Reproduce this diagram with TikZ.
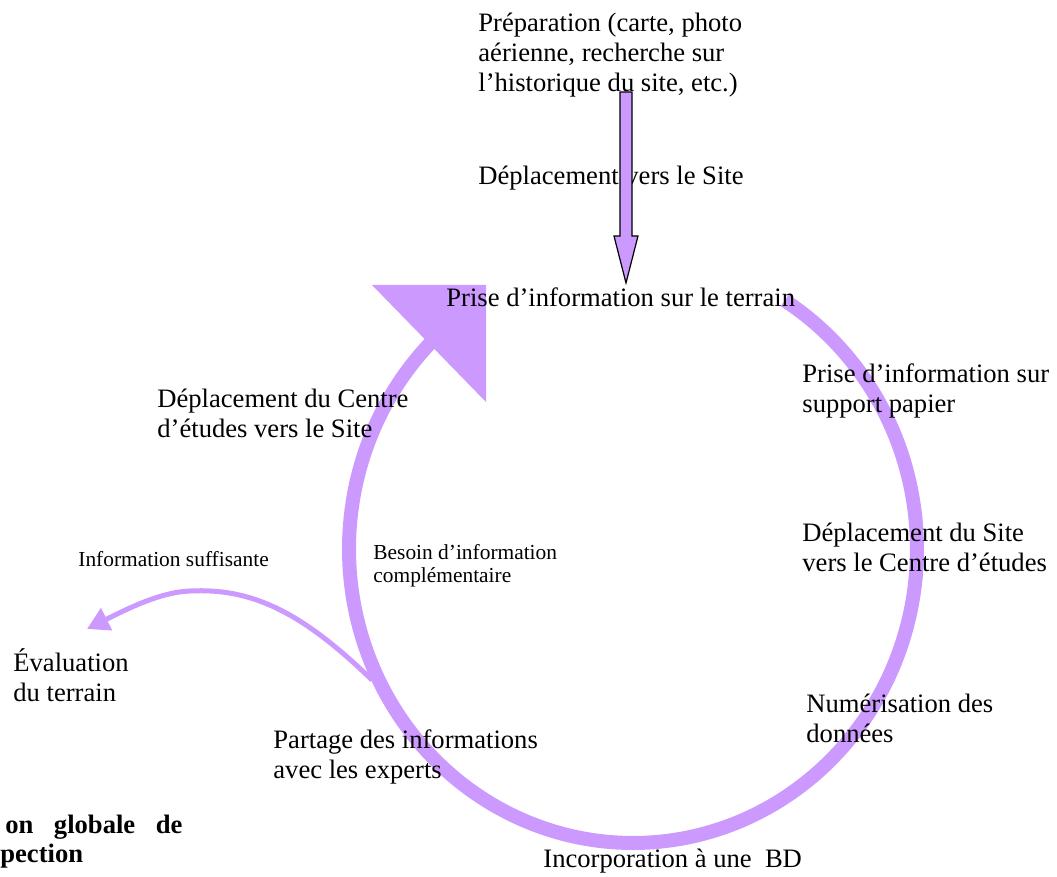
\documentclass[tikz,border=0pt]{standalone}
\usepackage{fontspec}
\setmainfont{Liberation Serif}
\usetikzlibrary{arrows.meta}
\definecolor{lav}{RGB}{204,153,255}
\begin{document}
\begin{tikzpicture}[x=0.5pt,y=-0.5pt,
  lbl/.style={anchor=base west, inner sep=0pt, align=left, font=\fontsize{13.3}{15}\selectfont},
  sml/.style={anchor=base west, inner sep=0pt, align=left, font=\fontsize{10.7}{11.5}\selectfont},
  bld/.style={anchor=base west, inner sep=0pt, font=\fontsize{13.3}{15}\selectfont\bfseries},
  ring/.style={draw=lav, line width=7pt, line cap=butt},
  thinarrow/.style={draw=lav, line width=2.5pt, -{Triangle[length=11pt,width=12pt]}},
  blockarrow/.style={draw=black, fill=lav, line width=0.6pt, line join=miter}]
\useasboundingbox (0,0) rectangle (1057,877);
% cycle ring
\draw[ring] plot[domain=-57.7:226, samples=150, smooth] ({633+284*cos(\x)},{549+294*sin(\x)});
\coordinate (headtip) at (486,285);
\fill[lav] (372,285) -- (headtip) -- (486,402) -- cycle;
% branch arrow
\coordinate (branch) at (372,680);
\coordinate (evaltip) at (87,629);
\draw[thinarrow] (branch) .. controls (300,610) and (250,588) .. (190,591) .. controls (160,592) and (125,610) .. (evaltip);
% labels (base anchor = last line baseline)
\node[lbl] (prep) at (478,92) {Préparation (carte, photo\\aérienne, recherche sur\\l’historique du site, etc.)};
\node[lbl] (depl) at (478,185) {Déplacement vers le Site};
\node[lbl] (prise) at (446,307) {Prise d’information sur le terrain};
\node[lbl] (centre) at (157,438) {Déplacement du Centre\\d’études vers le Site};
\node[lbl] (papier) at (802,413) {Prise d’information sur\\support papier};
\node[lbl] (site) at (802,572) {Déplacement du Site\\vers le Centre d’études};
\node[lbl] (num) at (806,743) {Numérisation des\\données};
\node[lbl] (bd) at (543,868) {Incorporation à une\ \ BD};
\node[lbl] (partage) at (273,778) {Partage des informations\\avec les experts};
\node[lbl] (eval) at (13,702) {Évaluation\\du terrain};
\node[sml] (suff) at (78,567) {Information suffisante};
\node[sml] (besoin) at (373,583) {Besoin d’information\\complémentaire};
\node[bld] (cap1) at (5,834) {\hbox to 88.5pt{on\hfil globale\hfil de}};
\node[bld] (cap2) at (0,863) {pection};
% top block arrow
\draw[blockarrow] (620,92) -- (632,92) -- (632,236) -- (638,236) -- (626,283) -- (614,236) -- (620,236) -- cycle;
\end{tikzpicture}
\end{document}
